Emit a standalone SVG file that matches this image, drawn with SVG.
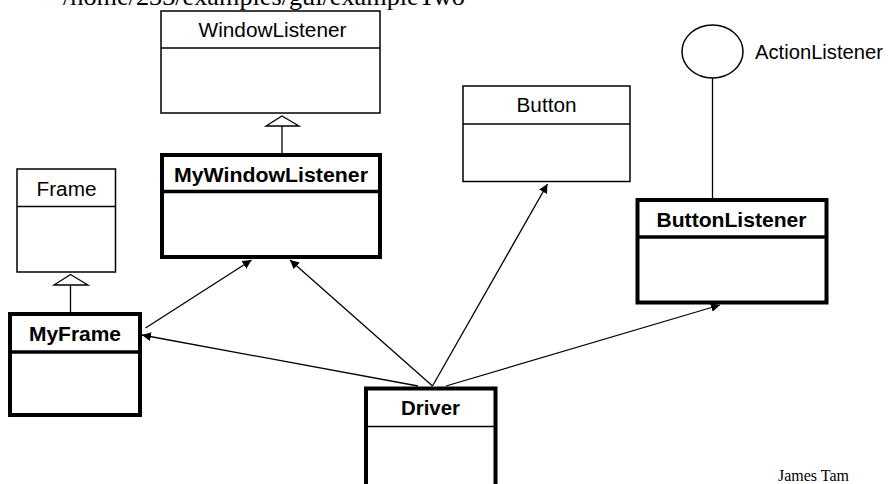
<svg xmlns="http://www.w3.org/2000/svg" width="891" height="484" viewBox="0 0 891 484">
<style>
  .thin { fill: #fff; stroke: #000; stroke-width: 1.5; }
  .thick { fill: #fff; stroke: #000; stroke-width: 4; }
  .div1 { stroke: #000; stroke-width: 1.5; }
  .div3 { stroke: #000; stroke-width: 3.5; }
  .lbl { font-family: "Liberation Sans", Arial, sans-serif; font-size: 20px; fill: #000; text-anchor: middle; }
  .blbl { font-family: "Liberation Sans", Arial, sans-serif; font-size: 20px; font-weight: bold; fill: #000; text-anchor: middle; }
  .serif { font-family: "Liberation Serif", "Times New Roman", serif; fill: #000; }
  .conn { stroke: #000; stroke-width: 1.3; fill: none; }
  .gen { fill: #fff; stroke: #000; stroke-width: 1.3; }
</style>
<defs>
  <marker id="arr" viewBox="0 0 10 10" refX="10" refY="5" markerWidth="9" markerHeight="9" markerUnits="userSpaceOnUse" orient="auto">
    <path d="M0,0 L10,5 L0,10 z" fill="#000"/>
  </marker>
</defs>
<rect width="891" height="484" fill="#fff"/>
<text class="serif" x="63" y="5" font-size="26" textLength="402" lengthAdjust="spacingAndGlyphs">/home/233/examples/gui/exampleTwo</text>

<g id="WindowListener">
  <rect class="thin" x="161" y="11" width="219" height="102"/>
  <line class="div1" x1="161" y1="48" x2="380" y2="48"/>
  <text class="lbl" x="272.5" y="37" textLength="148" lengthAdjust="spacingAndGlyphs">WindowListener</text>
</g>

<g id="Frame">
  <rect class="thin" x="17" y="169" width="98.5" height="103"/>
  <line class="div1" x1="17" y1="206.5" x2="115.5" y2="206.5"/>
  <text class="lbl" x="66.5" y="196" textLength="60" lengthAdjust="spacingAndGlyphs">Frame</text>
</g>

<g id="MyWindowListener">
  <rect class="thick" x="162" y="155" width="218" height="102"/>
  <line class="div3" x1="162" y1="191.5" x2="380" y2="191.5"/>
  <text class="blbl" x="271" y="182" textLength="194" lengthAdjust="spacingAndGlyphs">MyWindowListener</text>
</g>

<g id="Button">
  <rect class="thin" x="463" y="86" width="167" height="95.5"/>
  <line class="div1" x1="463" y1="124" x2="630" y2="124"/>
  <text class="lbl" x="546.5" y="111.5" textLength="60" lengthAdjust="spacingAndGlyphs">Button</text>
</g>

<g id="ActionListener">
  <ellipse class="thin" cx="712.5" cy="51.5" rx="30.5" ry="26.5"/>
  <text class="lbl" x="755" y="58.5" style="text-anchor:start" textLength="128" lengthAdjust="spacingAndGlyphs">ActionListener</text>
</g>

<g id="ButtonListener">
  <rect class="thick" x="637.5" y="200" width="189" height="102.5"/>
  <line class="div3" x1="637.5" y1="237" x2="826.5" y2="237"/>
  <text class="blbl" x="731.5" y="226.5" textLength="150" lengthAdjust="spacingAndGlyphs">ButtonListener</text>
</g>

<g id="MyFrame">
  <rect class="thick" x="10" y="314" width="130" height="101"/>
  <line class="div3" x1="10" y1="352" x2="140" y2="352"/>
  <text class="blbl" x="75" y="341" textLength="92" lengthAdjust="spacingAndGlyphs">MyFrame</text>
</g>

<g id="Driver">
  <path class="thick" d="M366,486 L366,388.5 L495.5,388.5 L495.5,486" fill="#fff"/>
  <line class="div1" x1="366" y1="426.5" x2="495.5" y2="426.5"/>
  <text class="blbl" x="430.5" y="415" textLength="59" lengthAdjust="spacingAndGlyphs">Driver</text>
</g>

<g id="connectors">
  <line class="conn" x1="282" y1="126" x2="282" y2="153"/>
  <polygon class="gen" points="282,116 299,126 266,126"/>
  <line class="conn" x1="70.5" y1="285" x2="70.5" y2="312"/>
  <polygon class="gen" points="70.5,274.5 88,285 54,285"/>
  <line class="conn" x1="712.5" y1="78" x2="712.5" y2="198"/>
  <line class="conn" x1="145.5" y1="328" x2="251.5" y2="260" marker-end="url(#arr)"/>
  <line class="conn" x1="418" y1="386" x2="142" y2="335" marker-end="url(#arr)"/>
  <line class="conn" x1="432.5" y1="386" x2="290" y2="260" marker-end="url(#arr)"/>
  <line class="conn" x1="432.5" y1="386" x2="547.5" y2="184" marker-end="url(#arr)"/>
  <line class="conn" x1="446" y1="386" x2="720" y2="305" marker-end="url(#arr)"/>
</g>

<text class="serif" x="778" y="481" font-size="16" textLength="71" lengthAdjust="spacingAndGlyphs">James Tam</text>
</svg>
